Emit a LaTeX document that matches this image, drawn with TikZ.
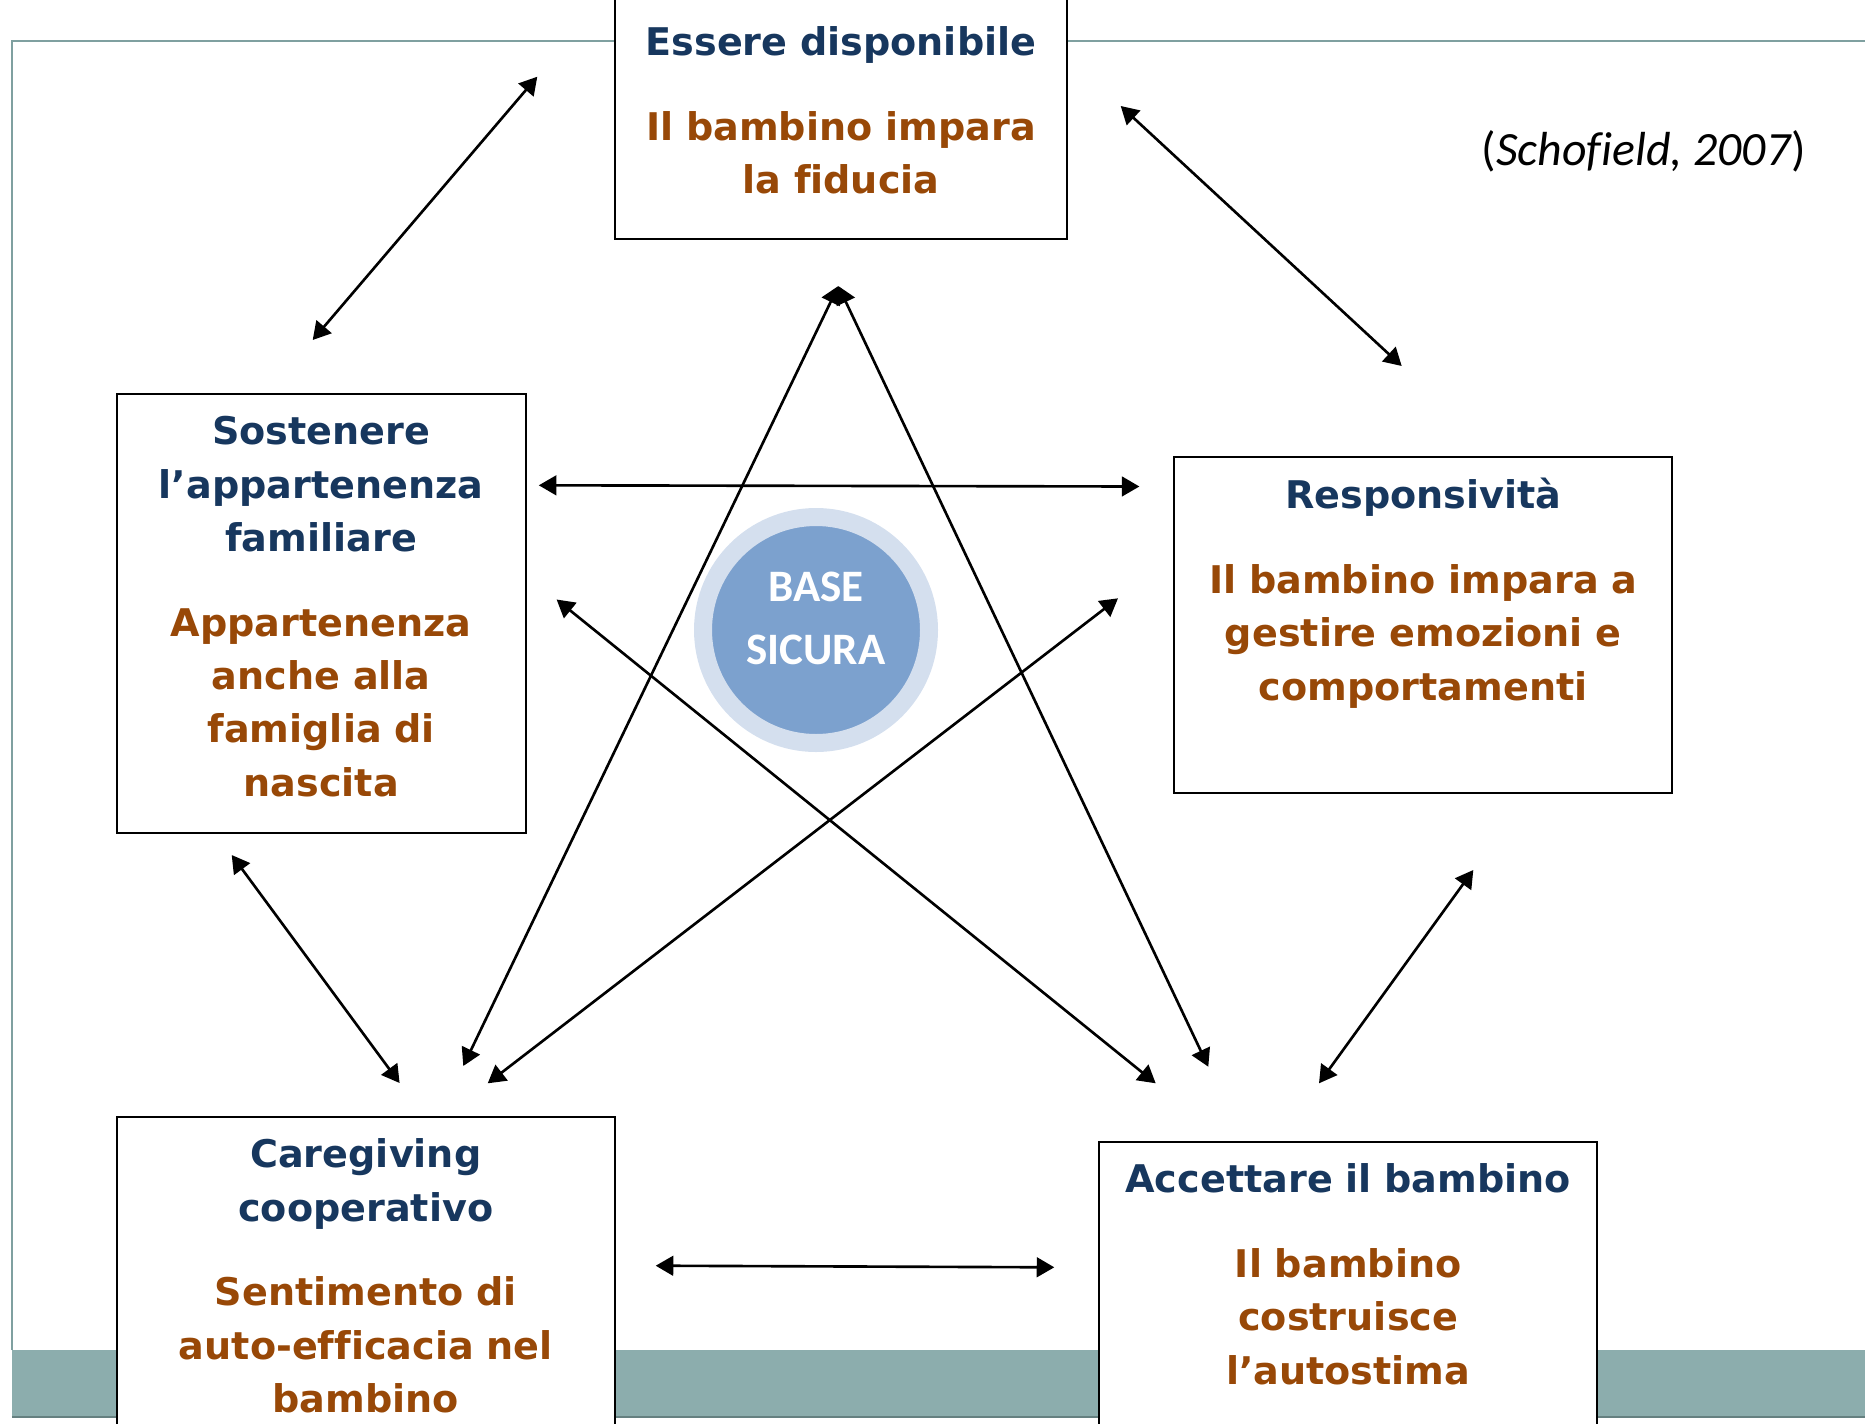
\documentclass[tikz,border=0pt]{standalone}
\usepackage{fontspec}
\setmainfont[Ligatures=NoCommon]{DejaVu Sans}
\newfontfamily\calib[Ligatures=NoCommon]{Carlito}
\usetikzlibrary{arrows.meta,positioning}
\definecolor{navy}{RGB}{23,55,94}
\definecolor{rust}{RGB}{152,72,7}
\definecolor{rimcol}{RGB}{127,160,160}
\definecolor{barcol}{RGB}{140,173,173}
\definecolor{ringcol}{RGB}{212,223,238}
\definecolor{corecol}{RGB}{124,161,206}

\begin{document}
\begin{tikzpicture}[semithick,
  box/.style={draw,fill=white,line width=0.6pt,inner sep=0,outer sep=0},
  txt/.style={text width=4.7cm,align=center,inner sep=0,font=\fontsize{10.85}{15.2}\selectfont\bfseries},
  dbl/.style={line width=0.75pt,{Triangle[length=5pt,width=5.6pt]}-{Triangle[length=5pt,width=5.6pt]}}]
\useasboundingbox (0,0) rectangle (18.65,-14.23);
% slide frame and band
\fill[barcol] (0.12,-13.50) rectangle (18.65,-14.17);
\draw[rimcol!80!black,line width=0.4pt] (0.12,-14.17)--(18.65,-14.17);
\draw[rimcol,line width=0.6pt] (0.12,-13.50)--(0.12,-0.41)--(18.65,-0.41);
% boxes
\node[box,minimum width=4.52cm,minimum height=2.41cm] (disp) at (8.41,-1.185) {};
\node[box,minimum width=4.09cm,minimum height=4.39cm] (fam) at (3.212,-6.132) {};
\node[box,minimum width=4.98cm,minimum height=3.366cm] (resp) at (14.232,-6.25) {};
\node[box,minimum width=4.984cm,minimum height=3.332cm] (coop) at (3.658,-12.834) {};
\node[box,minimum width=4.984cm,minimum height=3.082cm] (acc) at (13.482,-12.959) {};
\node[txt,below=5.5pt of disp.north] (disp-t) {\strut\color{navy}Essere disponibile\\[8.8pt]\color{rust}Il bambino impara\\la fiducia};
\node[txt,below=3.6pt of fam.north] (fam-t) {\strut\color{navy}Sostenere\\l’appartenenza\\familiare\\[8.8pt]\color{rust}Appartenenza\\anche alla\\famiglia di\\nascita};
\node[txt,below=3.9pt of resp.north] (resp-t) {\strut\color{navy}Responsività\\[8.8pt]\color{rust}Il bambino impara a\\gestire emozioni e\\comportamenti};
\node[txt,below=3.6pt of coop.north] (coop-t) {\strut\color{navy}Caregiving\\cooperativo\\[8.8pt]\color{rust}Sentimento di\\auto-efficacia nel\\bambino};
\node[txt,below=3.6pt of acc.north] (acc-t) {\strut\color{navy}Accettare il bambino\\[8.8pt]\color{rust}Il bambino\\costruisce\\l’autostima};
% secure base
\node[circle,fill=corecol,draw=ringcol,line width=0.18cm,minimum size=2.26cm,inner sep=0] (base) at (8.16,-6.30) {};
\node[font=\calib\bfseries\fontsize{12.8}{18}\selectfont,text=white,align=center,inner sep=0] (base-t) at (8.16,-6.183) {BASE\\SICURA};
\node[font=\calib\fontsize{13.6}{16}\selectfont,anchor=base,inner sep=0] (ref) at (16.44,-1.65) {(\textit{Schofield, 2007})};
% arrow ends
\foreach \x/\y/\n in {5.373/-0.767/A1,3.127/-3.40/A2,11.207/-1.06/B1,14.017/-3.66/B2,
  5.388/-4.853/C1,11.394/-4.865/C2,8.383/-2.86/T,4.633/-10.66/D1,12.083/-10.667/D2,
  5.566/-5.995/E1,11.557/-10.833/E2,11.18/-5.983/F1,4.877/-10.833/F2,
  2.317/-8.55/G1,3.996/-10.83/G2,14.733/-8.70/H1,13.19/-10.833/H2,6.557/-12.657/K1,10.543/-12.673/K2}
  \coordinate (\n) at (\x,\y);
\foreach \p/\q in {A1/A2,B1/B2,C1/C2,T/D1,T/D2,E1/E2,F1/F2,G1/G2,H1/H2,K1/K2}
  \draw[dbl] (\p)--(\q);
\end{tikzpicture}
\end{document}
